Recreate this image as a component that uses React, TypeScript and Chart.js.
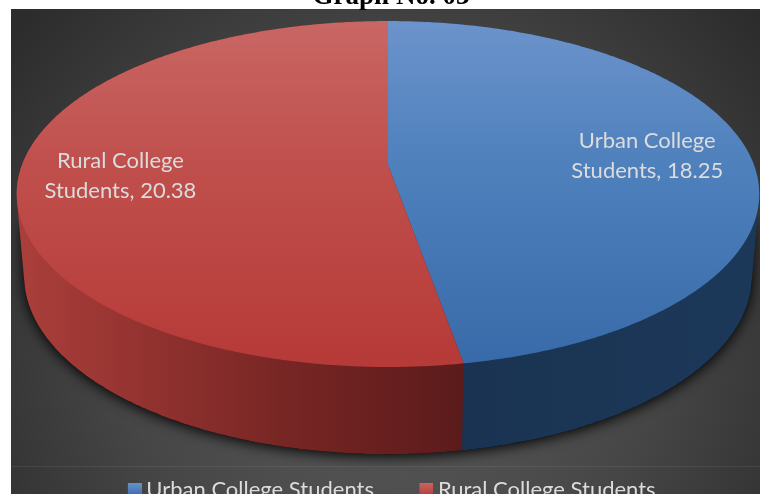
import React, { useEffect, useRef } from "react";
import { Chart, registerables } from "chart.js";

Chart.register(...registerables);

const categories = ["Urban College Students", "Rural College Students"];
const values = [18.25, 20.38];
const baseColors = ["#4f81bd", "#c0504d"];
const chartTitle = "Graph No. 03";

const FONT = "Lato, 'Noto Sans', sans-serif";
const TEXT = "#dcdcdc";

// Perspective projection of the unit pie on to the canvas
const CX = 388, CY = 165, A = 366, B = 168.1, K = 0.1677;
const MID_Y = 194, DEPTH_SCALE_X = 0.98, DEPTH_SCALE_Y = 1.03, DEPTH = 82;

type Pt = { x: number; y: number };

function project(u: number, v: number): Pt {
  const w = 1 - K * v;
  return { x: CX + (u * A) / w, y: CY + (v * B) / w };
}
function projectBottom(p: Pt): Pt {
  return { x: CX + (p.x - CX) * DEPTH_SCALE_X, y: MID_Y + (p.y - MID_Y) * DEPTH_SCALE_Y + DEPTH };
}
function rim(start: number, end: number): Pt[] {
  const pts: Pt[] = [];
  const n = Math.max(4, Math.ceil(Math.abs(end - start) / 0.01));
  for (let i = 0; i <= n; i++) {
    const a = start + ((end - start) * i) / n;
    pts.push(project(Math.cos(a), Math.sin(a)));
  }
  return pts;
}
function hull(points: Pt[]): Pt[] {
  const p = [...points].sort((a, b) => a.x - b.x || a.y - b.y);
  const cross = (o: Pt, a: Pt, b: Pt) => (a.x - o.x) * (b.y - o.y) - (a.y - o.y) * (b.x - o.x);
  const half = (list: Pt[]) => {
    const out: Pt[] = [];
    for (const q of list) {
      while (out.length > 1 && cross(out[out.length - 2], out[out.length - 1], q) <= 0) out.pop();
      out.push(q);
    }
    out.pop();
    return out;
  };
  return [...half(p), ...half([...p].reverse())];
}
function trace(ctx: any, pts: Pt[]) {
  ctx.beginPath();
  pts.forEach((p, i) => (i ? ctx.lineTo(p.x, p.y) : ctx.moveTo(p.x, p.y)));
  ctx.closePath();
}

const topStops = [
  [[0, "#6c93cb"], [0.4, "#4f81bd"], [1, "#386aa9"]],
  [[0, "#c96764"], [0.4, "#c0504d"], [1, "#b63a37"]],
];
const sideStops = [
  [[0, "#1a3352"], [1, "#1c3859"]],
  [[0, "#ab3f3b"], [0.25, "#963431"], [0.6, "#772624"], [1, "#5b1b1b"]],
];
const labelOffsets = [
  { dx: 3, dy: 1 },
  { dx: -6, dy: 0 },
];

const pie3d = {
  id: "pie3d",
  beforeInit(chart: any) {
    if ("letterSpacing" in chart.ctx) chart.ctx.letterSpacing = "0.15px";
  },
  beforeDraw(chart: any) {
    const { ctx, width, height } = chart;
    ctx.save();
    ctx.fillStyle = "#ffffff";
    ctx.fillRect(0, 0, width, height);
    const g = ctx.createRadialGradient(390, 330, 60, 390, 330, 480);
    g.addColorStop(0, "#585858");
    g.addColorStop(0.5, "#464646");
    g.addColorStop(1, "#2c2c2c");
    ctx.fillStyle = g;
    ctx.fillRect(11, 9, width - 11, height - 9);
    ctx.fillStyle = "rgba(255,255,255,0.07)";
    ctx.fillRect(11, 466, width - 11, 1);
    ctx.restore();
  },
  beforeDatasetsDraw(chart: any) {
    const { ctx, width, height } = chart;
    const arcs = chart.getDatasetMeta(0).data;
    ctx.save();

    const whole = rim(0, Math.PI * 2);
    const lowerTop = whole.filter((p) => p.y > MID_Y + 30);
    ctx.save();
    ctx.beginPath();
    ctx.rect(11, 9, width - 11, height - 9);
    ctx.clip();
    ctx.shadowColor = "rgba(0,0,0,1)";
    ctx.shadowBlur = 14;
    ctx.shadowOffsetY = 2;
    ctx.fillStyle = "#000";
    trace(ctx, hull([...lowerTop, ...whole.map(projectBottom)]));
    ctx.fill();
    ctx.restore();

    arcs.forEach((arc: any, i: number) => {
      const edge = rim(arc.startAngle, arc.endAngle);
      const bottom = edge.map(projectBottom);
      const xs = edge.filter((p) => p.y > MID_Y).map((p) => p.x);
      const split = project(Math.cos(arcs[0].endAngle), Math.sin(arcs[0].endAngle)).x;
      const g = i === 0
        ? ctx.createLinearGradient(split, 0, Math.max(...xs), 0)
        : ctx.createLinearGradient(Math.min(...xs), 0, split, 0);
      sideStops[i].forEach(([o, c]: any) => g.addColorStop(o, c));
      ctx.fillStyle = g;
      trace(ctx, hull([...edge, ...bottom]));
      ctx.fill();
    });

    arcs.forEach((arc: any, i: number) => {
      const edge = rim(arc.startAngle, arc.endAngle);
      const g = ctx.createLinearGradient(0, 21, 0, 367);
      topStops[i].forEach(([o, c]: any) => g.addColorStop(o, c));
      ctx.fillStyle = g;
      trace(ctx, [{ x: CX, y: CY }, ...edge]);
      ctx.fill();
    });

    ctx.fillStyle = TEXT;
    ctx.font = `22px ${FONT}`;
    ctx.textAlign = "center";
    ctx.textBaseline = "middle";
    arcs.forEach((arc: any, i: number) => {
      const mid = (arc.startAngle + arc.endAngle) / 2;
      const p = project(0.71 * Math.cos(mid), 0.71 * Math.sin(mid));
      const [first, second] = categories[i].split(" College ");
      const x = p.x + labelOffsets[i].dx;
      const y = p.y + labelOffsets[i].dy;
      ctx.fillText(`${first} College`, x, y - 15);
      ctx.fillText(`${second}, ${values[i]}`, x, y + 15);
    });
    ctx.restore();
    return false;
  },
};

function marker(i: number) {
  const c = document.createElement("canvas");
  c.width = 22;
  c.height = 14;
  const x = c.getContext("2d")!;
  const g = x.createLinearGradient(0, 0, 0, 14);
  g.addColorStop(0, i === 0 ? "#6c93cb" : "#c96764");
  g.addColorStop(1, i === 0 ? "#386aa9" : "#b63a37");
  x.fillStyle = g;
  x.fillRect(8, 0, 14, 14);
  return c;
}

export default function App() {
  const ref = useRef<HTMLCanvasElement>(null);
  useEffect(() => {
    const markers = [marker(0), marker(1)];
    const chart = new Chart(ref.current!, {
      type: "pie",
      data: {
        labels: categories,
        datasets: [{ data: values, backgroundColor: baseColors, borderWidth: 0 }],
      },
      plugins: [pie3d],
      options: {
        responsive: false,
        animation: false,
        layout: { padding: { left: 22, bottom: -16.5 } },
        plugins: {
          tooltip: { enabled: false },
          title: {
            display: true,
            text: chartTitle,
            color: "#000000",
            font: { family: "'Liberation Serif', serif", size: 27, weight: "bold" },
            padding: { top: -19, bottom: 0 },
          },
          legend: {
            position: "bottom",
            labels: {
              color: TEXT,
              font: { family: FONT, size: 22 },
              usePointStyle: true,
              pointStyleWidth: 9,
              boxHeight: 14,
              padding: 44,
              generateLabels(c: any) {
                return Chart.overrides.pie.plugins.legend.labels
                  .generateLabels(c)
                  .map((l: any, i: number) => ({ ...l, pointStyle: markers[i] }));
              },
            },
          },
        },
      },
    } as any);
    return () => chart.destroy();
  }, []);
  return (
    <canvas
      ref={ref}
      width={760}
      height={494}
      style={{ position: "fixed", left: 0, top: 0, display: "block" }}
    />
  );
}
